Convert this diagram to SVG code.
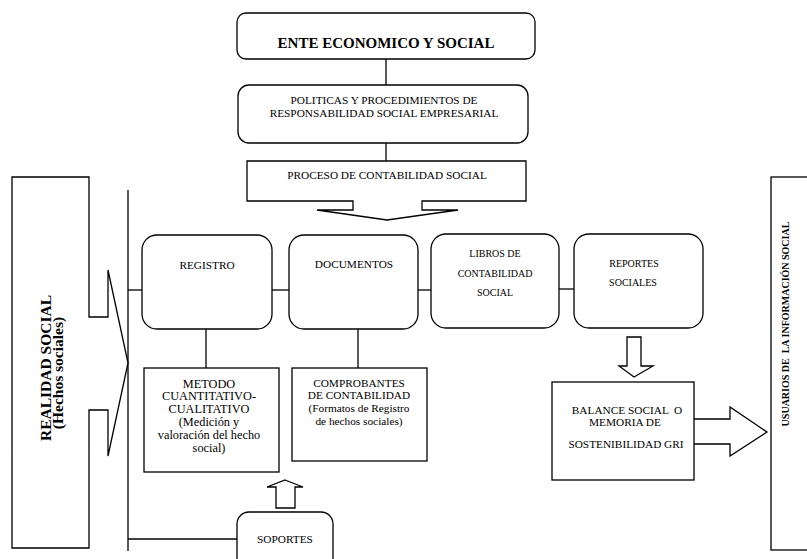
<svg xmlns="http://www.w3.org/2000/svg" width="807" height="559" viewBox="0 0 807 559" font-family="Liberation Serif, Times New Roman, serif">
<style>
.b{fill:#fff;stroke:#000;stroke-width:1.3}
.l{fill:none;stroke:#000;stroke-width:1.3}
.t{font-size:11.3px}
.s{font-size:10px}
.m{font-size:12.3px}
.bold{font-weight:bold}
.pre{white-space:pre}
</style>
<rect width="807" height="559" fill="#fff"/>
<g id="connectors">
<line class="l" x1="386" y1="59" x2="386" y2="85"/>
<line class="l" x1="386" y1="143" x2="386" y2="161"/>
<line class="l" x1="128" y1="190" x2="128" y2="551"/>
<line class="l" x1="128" y1="290" x2="142" y2="290"/>
<line class="l" x1="272" y1="290" x2="289" y2="290"/>
<line class="l" x1="418" y1="290" x2="431" y2="290"/>
<line class="l" x1="559" y1="289" x2="574" y2="289"/>
<line class="l" x1="206" y1="329" x2="206" y2="368"/>
<line class="l" x1="358" y1="329" x2="358" y2="368"/>
<line class="l" x1="128" y1="539" x2="237" y2="539"/>
<polygon class="b" points="627,337 641,337 641,366 653,366 634,377 619,366 627,366"/>
<polygon class="b" points="285,480 303,487 295,487 295,508 276,508 276,487 267,487"/>
<polyline class="b" points="694,419 730,419 730,407 767,432 730,456 730,444 694,444"/>
</g>
<g id="realidad" text-anchor="middle">
<path class="b" d="M12,177 H89 V317 H108 V270 L128,363 L108,456 V410 H89 V548 H12 Z"/>
<text class="bold" font-size="15.5" transform="translate(51,368) rotate(-90)">REALIDAD SOCIAL</text>
<text class="bold" font-size="15.5" transform="translate(63,373) rotate(-90)">(Hechos sociales)</text>
</g>
<g id="ente" text-anchor="middle">
<rect class="b" x="237" y="13" width="298" height="46" rx="9"/>
<text class="bold" font-size="15" x="386" y="48">ENTE ECONOMICO Y SOCIAL</text>
</g>
<g id="politicas" text-anchor="middle">
<rect class="b" x="238" y="85" width="290" height="58" rx="11"/>
<text class="t" x="384" y="104">POLITICAS Y PROCEDIMIENTOS DE</text>
<text class="t" x="384" y="117">RESPONSABILIDAD SOCIAL EMPRESARIAL</text>
</g>
<g id="proceso" text-anchor="middle">
<path class="b" d="M247,161 H526 V201 H422 V210 H458 L387,220 L317,210 H353 V201 H247 Z"/>
<text class="t" x="387" y="179">PROCESO DE CONTABILIDAD SOCIAL</text>
</g>
<g id="registro" text-anchor="middle">
<rect class="b" x="142" y="235" width="130" height="94" rx="15"/>
<text class="t" x="207" y="269">REGISTRO</text>
</g>
<g id="documentos" text-anchor="middle">
<rect class="b" x="289" y="235" width="129" height="94" rx="15"/>
<text class="t" x="354" y="268">DOCUMENTOS</text>
</g>
<g id="libros" text-anchor="middle">
<rect class="b" x="431" y="234" width="128" height="94" rx="15"/>
<text class="s" x="495" y="257">LIBROS DE</text>
<text class="s" x="495" y="277">CONTABILIDAD</text>
<text class="s" x="495" y="296">SOCIAL</text>
</g>
<g id="reportes" text-anchor="middle">
<rect class="b" x="574" y="234" width="129" height="94" rx="15"/>
<text class="s" x="634" y="267">REPORTES</text>
<text class="s" x="633" y="286">SOCIALES</text>
</g>
<g id="metodo" text-anchor="middle">
<rect class="b" x="144" y="368" width="135" height="104"/>
<text class="m" x="209" y="387.5">METODO</text>
<text class="m" x="209" y="400.3">CUANTITATIVO-</text>
<text class="m" x="209" y="413.1">CUALITATIVO</text>
<text class="m" x="209" y="425.9">(Medición y</text>
<text class="m" x="209" y="438.7">valoración del hecho</text>
<text class="m" x="209" y="451.5">social)</text>
</g>
<g id="comprobantes" text-anchor="middle">
<rect class="b" x="292" y="368" width="135" height="93"/>
<text class="t" x="359" y="386.7">COMPROBANTES</text>
<text class="t" x="359" y="399.3">DE CONTABILIDAD</text>
<text class="t" x="359" y="412">(Formatos de Registro</text>
<text class="t" x="359" y="424.7">de hechos sociales)</text>
</g>
<g id="balance" text-anchor="middle">
<rect class="b" x="552" y="382" width="142" height="98"/>
<text class="t pre" x="627" y="414">BALANCE SOCIAL  O</text>
<text class="t" x="625" y="426">MEMORIA DE</text>
<text class="t" x="626" y="448">SOSTENIBILIDAD GRI</text>
</g>
<g id="soportes" text-anchor="middle">
<rect class="b" x="237" y="512" width="96" height="60" rx="12"/>
<text class="t" x="285" y="543">SOPORTES</text>
</g>
<g id="usuarios" text-anchor="middle">
<rect class="b" x="771" y="177" width="60" height="373"/>
<text class="bold pre" font-size="10" transform="translate(789,324) rotate(-90)">USUARIOS DE  LA INFORMACIÓN SOCIAL</text>
</g>
</svg>
